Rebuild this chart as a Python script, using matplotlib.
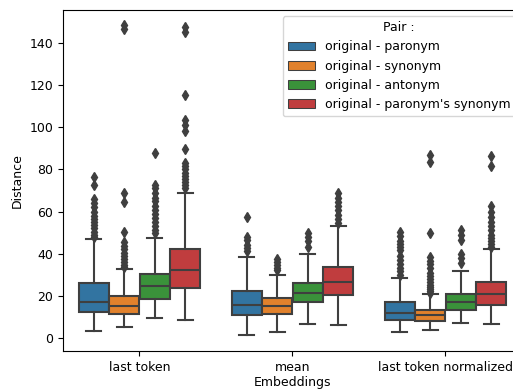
import matplotlib
matplotlib.use("Agg")
import matplotlib.pyplot as plt
from matplotlib.patches import Patch

# ---- data (Distance per embedding type / pair) ----
EMBEDDINGS = ["last token", "mean", "last token normalized"]
PAIRS = ["original - paronym", "original - synonym", "original - antonym",
         "original - paronym's synonym"]
COLORS = ["#3274a1", "#e1812c", "#3a923a", "#c03d3e"]

# one row per embedding, one entry per pair
Q1 = [[12.0, 11.3, 18.4, 23.5],
      [10.9, 11.2, 17.0, 20.1],
      [8.2, 8.1, 13.3, 15.7]]
MED = [[17.1, 14.9, 24.8, 32.2],
       [15.4, 15.2, 21.2, 26.5],
       [11.7, 10.9, 17.0, 20.9]]
Q3 = [[26.0, 20.0, 30.5, 42.0],
      [22.0, 18.9, 26.0, 33.4],
      [16.8, 13.1, 20.7, 26.3]]
WLO = [[3.3, 5.1, 9.5, 8.6],
       [1.4, 2.7, 6.7, 6.2],
       [2.5, 3.8, 7.0, 6.7]]
WHI = [[47.0, 32.6, 47.6, 69.0],
       [38.3, 29.9, 39.8, 52.9],
       [28.4, 20.9, 31.8, 42.3]]
FLIERS = [
    [[76.5, 72.5, 66, 64, 62, 60, 58, 56.5, 55, 53.5, 52, 50.5, 49, 48],
     [148.5, 147, 68.7, 64.3, 50.5, 45.5, 43.5, 42, 40.5, 39, 37.5, 36, 34.5, 33.5],
     [88, 72.7, 71, 68.7, 66.5, 64.8, 62.5, 60.8, 59, 56.9, 55, 52.9, 51, 49.7],
     [147.5, 145.5, 115.2, 103.7, 101, 98.3, 89.5, 83, 81.5, 80, 78.5, 77, 75.5, 74, 72.5, 71]],
    [[57.6, 48, 46.5, 44, 42.5, 41],
     [37.5, 36, 34.5, 33, 32],
     [49.7, 48, 46, 43],
     [68.7, 66.5, 64.5, 62.5, 60.5, 58.5, 56.5, 54.5]],
    [[50.5, 48.5, 46, 44.5, 43, 41.5, 39, 37, 35, 33, 31.5, 30],
     [87, 83.5, 49.7, 38.5, 36.5, 35, 33, 31, 29.5, 28, 26.5, 25, 24, 23, 22, 21.5],
     [51, 49, 46.5, 40, 38, 35.5],
     [86.5, 81.5, 62.5, 60, 57.5, 55, 53, 51, 49, 47.5, 46, 44.5, 43]],
]

plt.rcParams.update({"font.size": 9})
GRAY = "#3f3f3f"
LW = 1.5

fig = plt.figure(figsize=(5.13, 3.89), dpi=100)
ax = fig.add_axes([0.1228, 0.0977, 0.8947, 0.8766])

n = len(PAIRS)
bw = 0.8 / n
for i in range(len(EMBEDDINGS)):
    for j in range(n):
        st = dict(q1=Q1[i][j], med=MED[i][j], q3=Q3[i][j],
                  whislo=WLO[i][j], whishi=WHI[i][j], fliers=FLIERS[i][j])
        pos = i - 0.4 + bw * (j + 0.5)
        ax.bxp([st], positions=[pos], widths=bw * 0.98, patch_artist=True,
               showfliers=True,
               boxprops=dict(facecolor=COLORS[j], edgecolor=GRAY, linewidth=LW),
               medianprops=dict(color=GRAY, linewidth=LW),
               whiskerprops=dict(color=GRAY, linewidth=LW),
               capprops=dict(color=GRAY, linewidth=LW),
               flierprops=dict(marker="d", markersize=5.5, markerfacecolor=GRAY,
                               markeredgecolor=GRAY, linestyle="none"))

ax.set_xlim(-0.5, len(EMBEDDINGS) - 0.5)
ax.set_ylim(-6.3, 155.8)
ax.set_xticks(range(len(EMBEDDINGS)))
ax.set_xticklabels(EMBEDDINGS)
ax.set_yticks(range(0, 141, 20))
ax.set_xlabel("Embeddings", labelpad=2)
ax.set_ylabel("Distance")

handles = [Patch(facecolor=c, edgecolor=GRAY, linewidth=LW * 0.5) for c in COLORS]
ax.legend(handles, PAIRS, title="Pair :", loc="upper right", handlelength=2.2)

fig.savefig("out.png", dpi=100)
